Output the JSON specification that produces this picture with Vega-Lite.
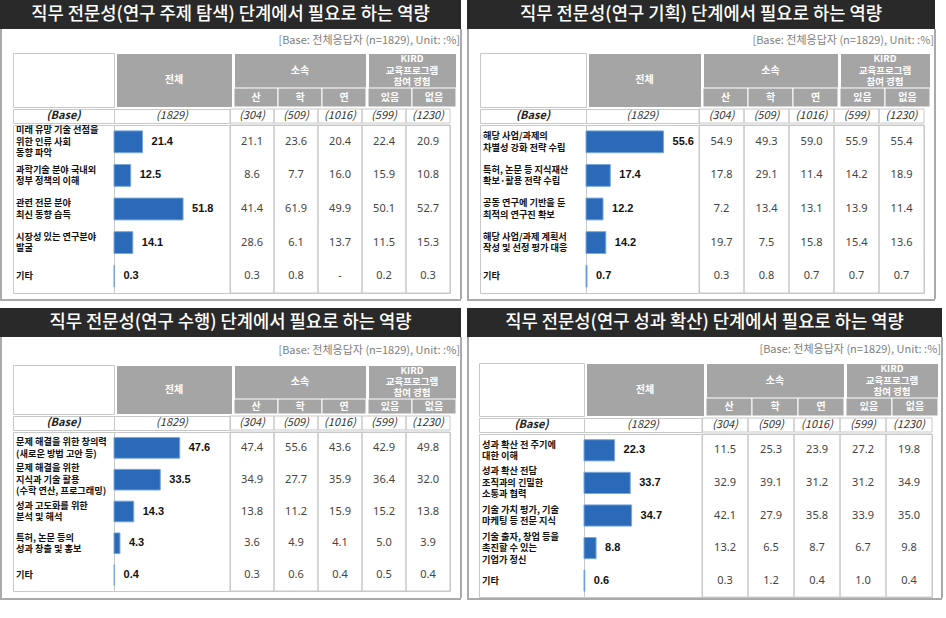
{
"$schema": "https://vega.github.io/schema/vega-lite/v6.json",
"padding": 0,
"background": "white",
"config": {"view": {"stroke": null}, "axis": {"disable": true}, "font": "Noto Sans CJK KR", "concat": {"spacing": 0}},
"datasets": {
"base": [{"c":"산","v":"(304)"},{"c":"학","v":"(509)"},{"c":"연","v":"(1016)"},{"c":"있음","v":"(599)"},{"c":"없음","v":"(1230)"}],
"items": [
{"p":1,"i":1,"label":"미래 유망 기술 선점을\n위한 인류 사회\n동향 파악","total":21.4,"산":"21.1","학":"23.6","연":"20.4","있음":"22.4","없음":"20.9"},
{"p":1,"i":2,"label":"과학기술 분야 국내외\n정부 정책의 이해","total":12.5,"산":"8.6","학":"7.7","연":"16.0","있음":"15.9","없음":"10.8"},
{"p":1,"i":3,"label":"관련 전문 분야\n최신 동향 습득","total":51.8,"산":"41.4","학":"61.9","연":"49.9","있음":"50.1","없음":"52.7"},
{"p":1,"i":4,"label":"시장성 있는 연구분야\n발굴","total":14.1,"산":"28.6","학":"6.1","연":"13.7","있음":"11.5","없음":"15.3"},
{"p":1,"i":5,"label":"기타","total":0.3,"산":"0.3","학":"0.8","연":"-","있음":"0.2","없음":"0.3"},
{"p":2,"i":1,"label":"해당 사업/과제의\n차별성 강화 전략 수립","total":55.6,"산":"54.9","학":"49.3","연":"59.0","있음":"55.9","없음":"55.4"},
{"p":2,"i":2,"label":"특허, 논문 등 지식재산\n확보·활용 전략 수립","total":17.4,"산":"17.8","학":"29.1","연":"11.4","있음":"14.2","없음":"18.9"},
{"p":2,"i":3,"label":"공동 연구에 기반을 둔\n최적의 연구진 확보","total":12.2,"산":"7.2","학":"13.4","연":"13.1","있음":"13.9","없음":"11.4"},
{"p":2,"i":4,"label":"해당 사업/과제 계획서\n작성 및 선정 평가 대응","total":14.2,"산":"19.7","학":"7.5","연":"15.8","있음":"15.4","없음":"13.6"},
{"p":2,"i":5,"label":"기타","total":0.7,"산":"0.3","학":"0.8","연":"0.7","있음":"0.7","없음":"0.7"},
{"p":3,"i":1,"label":"문제 해결을 위한 창의력\n(새로운 방법 고안 등)","total":47.6,"산":"47.4","학":"55.6","연":"43.6","있음":"42.9","없음":"49.8"},
{"p":3,"i":2,"label":"문제 해결을 위한\n지식과 기술 활용\n(수학 연산, 프로그래밍)","total":33.5,"산":"34.9","학":"27.7","연":"35.9","있음":"36.4","없음":"32.0"},
{"p":3,"i":3,"label":"성과 고도화를 위한\n분석 및 해석","total":14.3,"산":"13.8","학":"11.2","연":"15.9","있음":"15.2","없음":"13.8"},
{"p":3,"i":4,"label":"특허, 논문 등의\n성과 창출 및 홍보","total":4.3,"산":"3.6","학":"4.9","연":"4.1","있음":"5.0","없음":"3.9"},
{"p":3,"i":5,"label":"기타","total":0.4,"산":"0.3","학":"0.6","연":"0.4","있음":"0.5","없음":"0.4"},
{"p":4,"i":1,"label":"성과 확산 전 주기에\n대한 이해","total":22.3,"산":"11.5","학":"25.3","연":"23.9","있음":"27.2","없음":"19.8"},
{"p":4,"i":2,"label":"성과 확산 전담\n조직과의 긴밀한\n소통과 협력","total":33.7,"산":"32.9","학":"39.1","연":"31.2","있음":"31.2","없음":"34.9"},
{"p":4,"i":3,"label":"기술 가치 평가, 기술\n마케팅 등 전문 지식","total":34.7,"산":"42.1","학":"27.9","연":"35.8","있음":"33.9","없음":"35.0"},
{"p":4,"i":4,"label":"기술 출자, 창업 등을\n촉진할 수 있는\n기업가 정신","total":8.8,"산":"13.2","학":"6.5","연":"8.7","있음":"6.7","없음":"9.8"},
{"p":4,"i":5,"label":"기타","total":0.6,"산":"0.3","학":"1.2","연":"0.4","있음":"1.0","없음":"0.4"}
]
},
"vconcat": [
{"hconcat": [
{"vconcat": [
 {"width":461,"height":29,"view":{"fill":"#292929","stroke":null},"data":{"values":[{}]},"mark":{"type":"text","text":"직무 전문성(연구 주제 탐색) 단계에서 필요로 하는 역량","color":"white","fontSize":17.7,"fontWeight":500}},
 {"hconcat": [
  {"width":2,"height":270,"view":{"fill":"#aaaaaa","stroke":null},"data":{"values":[]},"mark":"rect"},
  {"width":10,"height":1,"data":{"values":[]},"mark":"rect"},
  {"vconcat": [
   {"width":447,"height":23,"data":{"values":[{}]},"mark":{"type":"text","text":"[Base: 전체응답자 (n=1829), Unit: :%]","color":"#808080","fontSize":11,"align":"right"},"encoding":{"x":{"value":"width"}}},
   {"hconcat": [
    {"width":101,"height":54,"view":{"fill":"white","stroke":"#c8c8c8"},"data":{"values":[]},"mark":"rect"},
    {"width":116,"height":54,"view":{"fill":"#a5a5a5","stroke":"white"},"data":{"values":[{}]},"mark":{"type":"text","text":"전체","color":"white","fontSize":10,"fontWeight":"bold"}},
    {"vconcat": [
     {"width":132,"height":35,"view":{"fill":"#a5a5a5","stroke":"white"},"data":{"values":[{}]},"mark":{"type":"text","text":"소속","color":"white","fontSize":10,"fontWeight":"bold"}},
     {"width":132,"height":19,"data":{"name":"base"},"transform":[{"filter":{"field":"c","oneOf":["산","학","연"]}}],"encoding":{"x":{"field":"c","type":"nominal","scale":{"type":"band","domain":["산","학","연"],"paddingInner":0,"paddingOuter":0}}},
      "layer":[{"mark":{"type":"rect","color":"#a5a5a5","stroke":"white","strokeWidth":1}},{"mark":{"type":"text","color":"white","fontSize":10,"fontWeight":"bold"},"encoding":{"text":{"field":"c"}}}]}
    ],"spacing":0,"bounds":"flush"},
    {"vconcat": [
     {"width":88,"height":35,"view":{"fill":"#a5a5a5","stroke":"white"},"data":{"values":[{}]},"mark":{"type":"text","text":"KIRD\n교육프로그램\n참여 경험","lineBreak":"\n","lineHeight":11.5,"dy":-11.5,"color":"white","fontSize":9.5,"fontWeight":"bold"}},
     {"width":88,"height":19,"data":{"name":"base"},"transform":[{"filter":{"field":"c","oneOf":["있음","없음"]}}],"encoding":{"x":{"field":"c","type":"nominal","scale":{"type":"band","domain":["있음","없음"],"paddingInner":0,"paddingOuter":0}}},
      "layer":[{"mark":{"type":"rect","color":"#a5a5a5","stroke":"white","strokeWidth":1}},{"mark":{"type":"text","color":"white","fontSize":10,"fontWeight":"bold"},"encoding":{"text":{"field":"c"}}}]}
    ],"spacing":0,"bounds":"flush"}
   ],"spacing":0},
   {"hconcat": [
    {"width":101,"height":14,"view":{"stroke":"#c8c8c8"},"data":{"values":[{}]},"mark":{"type":"text","text":"(Base)","fontStyle":"italic","fontWeight":"bold","fontSize":11,"color":"#222"}},
    {"width":116,"height":14,"view":{"stroke":"#c8c8c8"},"data":{"values":[{}]},"mark":{"type":"text","text":"(1829)","fontStyle":"italic","fontSize":11,"color":"#333"}},
    {"width":220,"height":14,"data":{"name":"base"},"encoding":{"x":{"field":"c","type":"nominal","scale":{"type":"band","domain":["산","학","연","있음","없음"],"paddingInner":0,"paddingOuter":0}}},
     "layer":[{"mark":{"type":"rect","fill":"transparent","stroke":"#c8c8c8"}},{"mark":{"type":"text","fontStyle":"italic","fontSize":11,"color":"#333"},"encoding":{"text":{"field":"v"}}}]}
   ],"spacing":0,"bounds":"flush"},
   {"hconcat": [
    {"width":101,"height":168,"view":{"stroke":"#c8c8c8"},"data":{"name":"items"},
     "encoding":{"x":{"value":0},"y":{"field":"i","type":"ordinal","scale":{"type":"band","paddingInner":0,"paddingOuter":0}},"text":{"field":"label"}},
     "layer":[
      {"transform":[{"filter":"datum.p==1 && length(split(datum.label,'\\n'))==1"}],"mark":{"type":"text","align":"left","dx":3,"dy":0,"fontSize":9.2,"fontWeight":"bold","lineBreak":"\n","lineHeight":11.5,"color":"#111"}},
      {"transform":[{"filter":"datum.p==1 && length(split(datum.label,'\\n'))==2"}],"mark":{"type":"text","align":"left","dx":3,"dy":-5.75,"fontSize":9.2,"fontWeight":"bold","lineBreak":"\n","lineHeight":11.5,"color":"#111"}},
      {"transform":[{"filter":"datum.p==1 && length(split(datum.label,'\\n'))==3"}],"mark":{"type":"text","align":"left","dx":3,"dy":-11.5,"fontSize":9.2,"fontWeight":"bold","lineBreak":"\n","lineHeight":11.5,"color":"#111"}}
     ]},
    {"width":116,"height":168,"view":{"stroke":"#c8c8c8"},"data":{"name":"items"},"transform":[{"filter":"datum.p==1"}],
     "encoding":{"y":{"field":"i","type":"ordinal","scale":{"type":"band","paddingInner":0.35,"paddingOuter":0.175}},"x":{"field":"total","type":"quantitative","scale":{"domain":[0,87],"nice":false}}},
     "layer":[{"mark":{"type":"bar","color":"#2a6ab8","stroke":"#7aa7dc","strokeWidth":1}},{"mark":{"type":"text","align":"left","dx":9,"fontSize":11,"fontWeight":"bold","font":"Liberation Sans","color":"#111"},"encoding":{"text":{"field":"total","format":".1f"}}}]},
    {"width":220,"height":168,"view":{"stroke":"#c8c8c8"},
     "layer":[
      {"data":{"name":"base"},"mark":{"type":"rect","fill":"transparent","stroke":"#c8c8c8"},"encoding":{"x":{"field":"c","type":"nominal","scale":{"type":"band","domain":["산","학","연","있음","없음"],"paddingInner":0,"paddingOuter":0}}}},
      {"data":{"name":"items"},"transform":[{"filter":"datum.p==1"},{"fold":["산","학","연","있음","없음"],"as":["c","v"]}],"mark":{"type":"text","fontSize":11,"color":"#444","font":"Noto Sans"},
       "encoding":{"x":{"field":"c","type":"nominal","scale":{"type":"band","domain":["산","학","연","있음","없음"],"paddingInner":0,"paddingOuter":0}},"y":{"field":"i","type":"ordinal","scale":{"type":"band","paddingInner":0,"paddingOuter":0}},"text":{"field":"v"}}}
     ]}
   ],"spacing":0,"bounds":"flush"}
  ],"spacing":0},
  {"width":2,"height":270,"view":{"fill":"#aaaaaa","stroke":null},"data":{"values":[]},"mark":"rect"}
 ],"spacing":0},
 {"width":461,"height":2,"view":{"fill":"#aaaaaa","stroke":null},"data":{"values":[]},"mark":"rect"}
],"spacing":0},

{"vconcat": [
 {"width":468,"height":29,"view":{"fill":"#292929","stroke":null},"data":{"values":[{}]},"mark":{"type":"text","text":"직무 전문성(연구 기획) 단계에서 필요로 하는 역량","color":"white","fontSize":17.7,"fontWeight":500}},
 {"hconcat": [
  {"width":2,"height":270,"view":{"fill":"#aaaaaa","stroke":null},"data":{"values":[]},"mark":"rect"},
  {"width":10,"height":1,"data":{"values":[]},"mark":"rect"},
  {"vconcat": [
   {"width":454,"height":23,"data":{"values":[{}]},"mark":{"type":"text","text":"[Base: 전체응답자 (n=1829), Unit: :%]","color":"#808080","fontSize":11,"align":"right"},"encoding":{"x":{"value":"width"}}},
   {"hconcat": [
    {"width":106,"height":54,"view":{"fill":"white","stroke":"#c8c8c8"},"data":{"values":[]},"mark":"rect"},
    {"width":113,"height":54,"view":{"fill":"#a5a5a5","stroke":"white"},"data":{"values":[{}]},"mark":{"type":"text","text":"전체","color":"white","fontSize":10,"fontWeight":"bold"}},
    {"vconcat": [
     {"width":135,"height":35,"view":{"fill":"#a5a5a5","stroke":"white"},"data":{"values":[{}]},"mark":{"type":"text","text":"소속","color":"white","fontSize":10,"fontWeight":"bold"}},
     {"width":135,"height":19,"data":{"name":"base"},"transform":[{"filter":{"field":"c","oneOf":["산","학","연"]}}],"encoding":{"x":{"field":"c","type":"nominal","scale":{"type":"band","domain":["산","학","연"],"paddingInner":0,"paddingOuter":0}}},
      "layer":[{"mark":{"type":"rect","color":"#a5a5a5","stroke":"white","strokeWidth":1}},{"mark":{"type":"text","color":"white","fontSize":10,"fontWeight":"bold"},"encoding":{"text":{"field":"c"}}}]}
    ],"spacing":0,"bounds":"flush"},
    {"vconcat": [
     {"width":90,"height":35,"view":{"fill":"#a5a5a5","stroke":"white"},"data":{"values":[{}]},"mark":{"type":"text","text":"KIRD\n교육프로그램\n참여 경험","lineBreak":"\n","lineHeight":11.5,"dy":-11.5,"color":"white","fontSize":9.5,"fontWeight":"bold"}},
     {"width":90,"height":19,"data":{"name":"base"},"transform":[{"filter":{"field":"c","oneOf":["있음","없음"]}}],"encoding":{"x":{"field":"c","type":"nominal","scale":{"type":"band","domain":["있음","없음"],"paddingInner":0,"paddingOuter":0}}},
      "layer":[{"mark":{"type":"rect","color":"#a5a5a5","stroke":"white","strokeWidth":1}},{"mark":{"type":"text","color":"white","fontSize":10,"fontWeight":"bold"},"encoding":{"text":{"field":"c"}}}]}
    ],"spacing":0,"bounds":"flush"}
   ],"spacing":0},
   {"hconcat": [
    {"width":106,"height":14,"view":{"stroke":"#c8c8c8"},"data":{"values":[{}]},"mark":{"type":"text","text":"(Base)","fontStyle":"italic","fontWeight":"bold","fontSize":11,"color":"#222"}},
    {"width":113,"height":14,"view":{"stroke":"#c8c8c8"},"data":{"values":[{}]},"mark":{"type":"text","text":"(1829)","fontStyle":"italic","fontSize":11,"color":"#333"}},
    {"width":225,"height":14,"data":{"name":"base"},"encoding":{"x":{"field":"c","type":"nominal","scale":{"type":"band","domain":["산","학","연","있음","없음"],"paddingInner":0,"paddingOuter":0}}},
     "layer":[{"mark":{"type":"rect","fill":"transparent","stroke":"#c8c8c8"}},{"mark":{"type":"text","fontStyle":"italic","fontSize":11,"color":"#333"},"encoding":{"text":{"field":"v"}}}]}
   ],"spacing":0,"bounds":"flush"},
   {"hconcat": [
    {"width":106,"height":168,"view":{"stroke":"#c8c8c8"},"data":{"name":"items"},
     "encoding":{"x":{"value":0},"y":{"field":"i","type":"ordinal","scale":{"type":"band","paddingInner":0,"paddingOuter":0}},"text":{"field":"label"}},
     "layer":[
      {"transform":[{"filter":"datum.p==2 && length(split(datum.label,'\\n'))==1"}],"mark":{"type":"text","align":"left","dx":3,"dy":0,"fontSize":9.2,"fontWeight":"bold","lineBreak":"\n","lineHeight":11.5,"color":"#111"}},
      {"transform":[{"filter":"datum.p==2 && length(split(datum.label,'\\n'))==2"}],"mark":{"type":"text","align":"left","dx":3,"dy":-5.75,"fontSize":9.2,"fontWeight":"bold","lineBreak":"\n","lineHeight":11.5,"color":"#111"}},
      {"transform":[{"filter":"datum.p==2 && length(split(datum.label,'\\n'))==3"}],"mark":{"type":"text","align":"left","dx":3,"dy":-11.5,"fontSize":9.2,"fontWeight":"bold","lineBreak":"\n","lineHeight":11.5,"color":"#111"}}
     ]},
    {"width":113,"height":168,"view":{"stroke":"#c8c8c8"},"data":{"name":"items"},"transform":[{"filter":"datum.p==2"}],
     "encoding":{"y":{"field":"i","type":"ordinal","scale":{"type":"band","paddingInner":0.35,"paddingOuter":0.175}},"x":{"field":"total","type":"quantitative","scale":{"domain":[0,81],"nice":false}}},
     "layer":[{"mark":{"type":"bar","color":"#2a6ab8","stroke":"#7aa7dc","strokeWidth":1}},{"mark":{"type":"text","align":"left","dx":9,"fontSize":11,"fontWeight":"bold","font":"Liberation Sans","color":"#111"},"encoding":{"text":{"field":"total","format":".1f"}}}]},
    {"width":225,"height":168,"view":{"stroke":"#c8c8c8"},
     "layer":[
      {"data":{"name":"base"},"mark":{"type":"rect","fill":"transparent","stroke":"#c8c8c8"},"encoding":{"x":{"field":"c","type":"nominal","scale":{"type":"band","domain":["산","학","연","있음","없음"],"paddingInner":0,"paddingOuter":0}}}},
      {"data":{"name":"items"},"transform":[{"filter":"datum.p==2"},{"fold":["산","학","연","있음","없음"],"as":["c","v"]}],"mark":{"type":"text","fontSize":11,"color":"#444","font":"Noto Sans"},
       "encoding":{"x":{"field":"c","type":"nominal","scale":{"type":"band","domain":["산","학","연","있음","없음"],"paddingInner":0,"paddingOuter":0}},"y":{"field":"i","type":"ordinal","scale":{"type":"band","paddingInner":0,"paddingOuter":0}},"text":{"field":"v"}}}
     ]}
   ],"spacing":0,"bounds":"flush"}
  ],"spacing":0},
  {"width":2,"height":270,"view":{"fill":"#aaaaaa","stroke":null},"data":{"values":[]},"mark":"rect"}
 ],"spacing":0},
 {"width":468,"height":2,"view":{"fill":"#aaaaaa","stroke":null},"data":{"values":[]},"mark":"rect"}
],"spacing":0}
],"spacing":5},

{"hconcat": [
{"vconcat": [
 {"width":461,"height":29,"view":{"fill":"#292929","stroke":null},"data":{"values":[{}]},"mark":{"type":"text","text":"직무 전문성(연구 수행) 단계에서 필요로 하는 역량","color":"white","fontSize":17.7,"fontWeight":500}},
 {"hconcat": [
  {"width":2,"height":261,"view":{"fill":"#aaaaaa","stroke":null},"data":{"values":[]},"mark":"rect"},
  {"width":10,"height":1,"data":{"values":[]},"mark":"rect"},
  {"vconcat": [
   {"width":447,"height":27,"data":{"values":[{}]},"mark":{"type":"text","text":"[Base: 전체응답자 (n=1829), Unit: :%]","color":"#808080","fontSize":11,"align":"right"},"encoding":{"x":{"value":"width"}}},
   {"hconcat": [
    {"width":101,"height":49,"view":{"fill":"white","stroke":"#c8c8c8"},"data":{"values":[]},"mark":"rect"},
    {"width":116,"height":49,"view":{"fill":"#a5a5a5","stroke":"white"},"data":{"values":[{}]},"mark":{"type":"text","text":"전체","color":"white","fontSize":10,"fontWeight":"bold"}},
    {"vconcat": [
     {"width":132,"height":34,"view":{"fill":"#a5a5a5","stroke":"white"},"data":{"values":[{}]},"mark":{"type":"text","text":"소속","color":"white","fontSize":10,"fontWeight":"bold"}},
     {"width":132,"height":15,"data":{"name":"base"},"transform":[{"filter":{"field":"c","oneOf":["산","학","연"]}}],"encoding":{"x":{"field":"c","type":"nominal","scale":{"type":"band","domain":["산","학","연"],"paddingInner":0,"paddingOuter":0}}},
      "layer":[{"mark":{"type":"rect","color":"#a5a5a5","stroke":"white","strokeWidth":1}},{"mark":{"type":"text","color":"white","fontSize":10,"fontWeight":"bold"},"encoding":{"text":{"field":"c"}}}]}
    ],"spacing":0,"bounds":"flush"},
    {"vconcat": [
     {"width":88,"height":34,"view":{"fill":"#a5a5a5","stroke":"white"},"data":{"values":[{}]},"mark":{"type":"text","text":"KIRD\n교육프로그램\n참여 경험","lineBreak":"\n","lineHeight":11,"dy":-11,"color":"white","fontSize":9.5,"fontWeight":"bold"}},
     {"width":88,"height":15,"data":{"name":"base"},"transform":[{"filter":{"field":"c","oneOf":["있음","없음"]}}],"encoding":{"x":{"field":"c","type":"nominal","scale":{"type":"band","domain":["있음","없음"],"paddingInner":0,"paddingOuter":0}}},
      "layer":[{"mark":{"type":"rect","color":"#a5a5a5","stroke":"white","strokeWidth":1}},{"mark":{"type":"text","color":"white","fontSize":10,"fontWeight":"bold"},"encoding":{"text":{"field":"c"}}}]}
    ],"spacing":0,"bounds":"flush"}
   ],"spacing":0},
   {"hconcat": [
    {"width":101,"height":14,"view":{"stroke":"#c8c8c8"},"data":{"values":[{}]},"mark":{"type":"text","text":"(Base)","fontStyle":"italic","fontWeight":"bold","fontSize":11,"color":"#222"}},
    {"width":116,"height":14,"view":{"stroke":"#c8c8c8"},"data":{"values":[{}]},"mark":{"type":"text","text":"(1829)","fontStyle":"italic","fontSize":11,"color":"#333"}},
    {"width":220,"height":14,"data":{"name":"base"},"encoding":{"x":{"field":"c","type":"nominal","scale":{"type":"band","domain":["산","학","연","있음","없음"],"paddingInner":0,"paddingOuter":0}}},
     "layer":[{"mark":{"type":"rect","fill":"transparent","stroke":"#c8c8c8"}},{"mark":{"type":"text","fontStyle":"italic","fontSize":11,"color":"#333"},"encoding":{"text":{"field":"v"}}}]}
   ],"spacing":0,"bounds":"flush"},
   {"hconcat": [
    {"width":101,"height":159,"view":{"stroke":"#c8c8c8"},"data":{"name":"items"},
     "encoding":{"x":{"value":0},"y":{"field":"i","type":"ordinal","scale":{"type":"band","paddingInner":0,"paddingOuter":0}},"text":{"field":"label"}},
     "layer":[
      {"transform":[{"filter":"datum.p==3 && length(split(datum.label,'\\n'))==1"}],"mark":{"type":"text","align":"left","dx":3,"dy":0,"fontSize":9.2,"fontWeight":"bold","lineBreak":"\n","lineHeight":11.5,"color":"#111"}},
      {"transform":[{"filter":"datum.p==3 && length(split(datum.label,'\\n'))==2"}],"mark":{"type":"text","align":"left","dx":3,"dy":-5.75,"fontSize":9.2,"fontWeight":"bold","lineBreak":"\n","lineHeight":11.5,"color":"#111"}},
      {"transform":[{"filter":"datum.p==3 && length(split(datum.label,'\\n'))==3"}],"mark":{"type":"text","align":"left","dx":3,"dy":-11.5,"fontSize":9.2,"fontWeight":"bold","lineBreak":"\n","lineHeight":11.5,"color":"#111"}}
     ]},
    {"width":116,"height":159,"view":{"stroke":"#c8c8c8"},"data":{"name":"items"},"transform":[{"filter":"datum.p==3"}],
     "encoding":{"y":{"field":"i","type":"ordinal","scale":{"type":"band","paddingInner":0.35,"paddingOuter":0.175}},"x":{"field":"total","type":"quantitative","scale":{"domain":[0,84],"nice":false}}},
     "layer":[{"mark":{"type":"bar","color":"#2a6ab8","stroke":"#7aa7dc","strokeWidth":1}},{"mark":{"type":"text","align":"left","dx":9,"fontSize":11,"fontWeight":"bold","font":"Liberation Sans","color":"#111"},"encoding":{"text":{"field":"total","format":".1f"}}}]},
    {"width":220,"height":159,"view":{"stroke":"#c8c8c8"},
     "layer":[
      {"data":{"name":"base"},"mark":{"type":"rect","fill":"transparent","stroke":"#c8c8c8"},"encoding":{"x":{"field":"c","type":"nominal","scale":{"type":"band","domain":["산","학","연","있음","없음"],"paddingInner":0,"paddingOuter":0}}}},
      {"data":{"name":"items"},"transform":[{"filter":"datum.p==3"},{"fold":["산","학","연","있음","없음"],"as":["c","v"]}],"mark":{"type":"text","fontSize":11,"color":"#444","font":"Noto Sans"},
       "encoding":{"x":{"field":"c","type":"nominal","scale":{"type":"band","domain":["산","학","연","있음","없음"],"paddingInner":0,"paddingOuter":0}},"y":{"field":"i","type":"ordinal","scale":{"type":"band","paddingInner":0,"paddingOuter":0}},"text":{"field":"v"}}}
     ]}
   ],"spacing":0,"bounds":"flush"}
  ],"spacing":0},
  {"width":2,"height":261,"view":{"fill":"#aaaaaa","stroke":null},"data":{"values":[]},"mark":"rect"}
 ],"spacing":0},
 {"width":461,"height":2,"view":{"fill":"#aaaaaa","stroke":null},"data":{"values":[]},"mark":"rect"}
],"spacing":0},

{"vconcat": [
 {"width":475,"height":29,"view":{"fill":"#292929","stroke":null},"data":{"values":[{}]},"mark":{"type":"text","text":"직무 전문성(연구 성과 확산) 단계에서 필요로 하는 역량","color":"white","fontSize":17.7,"fontWeight":500}},
 {"hconcat": [
  {"width":2,"height":261,"view":{"fill":"#aaaaaa","stroke":null},"data":{"values":[]},"mark":"rect"},
  {"width":9,"height":1,"data":{"values":[]},"mark":"rect"},
  {"vconcat": [
   {"width":462,"height":25,"data":{"values":[{}]},"mark":{"type":"text","text":"[Base: 전체응답자 (n=1829), Unit: :%]","color":"#808080","fontSize":11,"align":"right"},"encoding":{"x":{"value":"width"}}},
   {"hconcat": [
    {"width":105,"height":53,"view":{"fill":"white","stroke":"#c8c8c8"},"data":{"values":[]},"mark":"rect"},
    {"width":118,"height":53,"view":{"fill":"#a5a5a5","stroke":"white"},"data":{"values":[{}]},"mark":{"type":"text","text":"전체","color":"white","fontSize":10,"fontWeight":"bold"}},
    {"vconcat": [
     {"width":138,"height":35,"view":{"fill":"#a5a5a5","stroke":"white"},"data":{"values":[{}]},"mark":{"type":"text","text":"소속","color":"white","fontSize":10,"fontWeight":"bold"}},
     {"width":138,"height":18,"data":{"name":"base"},"transform":[{"filter":{"field":"c","oneOf":["산","학","연"]}}],"encoding":{"x":{"field":"c","type":"nominal","scale":{"type":"band","domain":["산","학","연"],"paddingInner":0,"paddingOuter":0}}},
      "layer":[{"mark":{"type":"rect","color":"#a5a5a5","stroke":"white","strokeWidth":1}},{"mark":{"type":"text","color":"white","fontSize":10,"fontWeight":"bold"},"encoding":{"text":{"field":"c"}}}]}
    ],"spacing":0,"bounds":"flush"},
    {"vconcat": [
     {"width":92,"height":35,"view":{"fill":"#a5a5a5","stroke":"white"},"data":{"values":[{}]},"mark":{"type":"text","text":"KIRD\n교육프로그램\n참여 경험","lineBreak":"\n","lineHeight":11.5,"dy":-11.5,"color":"white","fontSize":9.5,"fontWeight":"bold"}},
     {"width":92,"height":18,"data":{"name":"base"},"transform":[{"filter":{"field":"c","oneOf":["있음","없음"]}}],"encoding":{"x":{"field":"c","type":"nominal","scale":{"type":"band","domain":["있음","없음"],"paddingInner":0,"paddingOuter":0}}},
      "layer":[{"mark":{"type":"rect","color":"#a5a5a5","stroke":"white","strokeWidth":1}},{"mark":{"type":"text","color":"white","fontSize":10,"fontWeight":"bold"},"encoding":{"text":{"field":"c"}}}]}
    ],"spacing":0,"bounds":"flush"}
   ],"spacing":0},
   {"hconcat": [
    {"width":105,"height":14,"view":{"stroke":"#c8c8c8"},"data":{"values":[{}]},"mark":{"type":"text","text":"(Base)","fontStyle":"italic","fontWeight":"bold","fontSize":11,"color":"#222"}},
    {"width":118,"height":14,"view":{"stroke":"#c8c8c8"},"data":{"values":[{}]},"mark":{"type":"text","text":"(1829)","fontStyle":"italic","fontSize":11,"color":"#333"}},
    {"width":230,"height":14,"data":{"name":"base"},"encoding":{"x":{"field":"c","type":"nominal","scale":{"type":"band","domain":["산","학","연","있음","없음"],"paddingInner":0,"paddingOuter":0}}},
     "layer":[{"mark":{"type":"rect","fill":"transparent","stroke":"#c8c8c8"}},{"mark":{"type":"text","fontStyle":"italic","fontSize":11,"color":"#333"},"encoding":{"text":{"field":"v"}}}]}
   ],"spacing":0,"bounds":"flush"},
   {"hconcat": [
    {"width":105,"height":163,"view":{"stroke":"#c8c8c8"},"data":{"name":"items"},
     "encoding":{"x":{"value":0},"y":{"field":"i","type":"ordinal","scale":{"type":"band","paddingInner":0,"paddingOuter":0}},"text":{"field":"label"}},
     "layer":[
      {"transform":[{"filter":"datum.p==4 && length(split(datum.label,'\\n'))==1"}],"mark":{"type":"text","align":"left","dx":3,"dy":0,"fontSize":9.2,"fontWeight":"bold","lineBreak":"\n","lineHeight":11.5,"color":"#111"}},
      {"transform":[{"filter":"datum.p==4 && length(split(datum.label,'\\n'))==2"}],"mark":{"type":"text","align":"left","dx":3,"dy":-5.75,"fontSize":9.2,"fontWeight":"bold","lineBreak":"\n","lineHeight":11.5,"color":"#111"}},
      {"transform":[{"filter":"datum.p==4 && length(split(datum.label,'\\n'))==3"}],"mark":{"type":"text","align":"left","dx":3,"dy":-11.5,"fontSize":9.2,"fontWeight":"bold","lineBreak":"\n","lineHeight":11.5,"color":"#111"}}
     ]},
    {"width":118,"height":163,"view":{"stroke":"#c8c8c8"},"data":{"name":"items"},"transform":[{"filter":"datum.p==4"}],
     "encoding":{"y":{"field":"i","type":"ordinal","scale":{"type":"band","paddingInner":0.35,"paddingOuter":0.175}},"x":{"field":"total","type":"quantitative","scale":{"domain":[0,86],"nice":false}}},
     "layer":[{"mark":{"type":"bar","color":"#2a6ab8","stroke":"#7aa7dc","strokeWidth":1}},{"mark":{"type":"text","align":"left","dx":9,"fontSize":11,"fontWeight":"bold","font":"Liberation Sans","color":"#111"},"encoding":{"text":{"field":"total","format":".1f"}}}]},
    {"width":230,"height":163,"view":{"stroke":"#c8c8c8"},
     "layer":[
      {"data":{"name":"base"},"mark":{"type":"rect","fill":"transparent","stroke":"#c8c8c8"},"encoding":{"x":{"field":"c","type":"nominal","scale":{"type":"band","domain":["산","학","연","있음","없음"],"paddingInner":0,"paddingOuter":0}}}},
      {"data":{"name":"items"},"transform":[{"filter":"datum.p==4"},{"fold":["산","학","연","있음","없음"],"as":["c","v"]}],"mark":{"type":"text","fontSize":11,"color":"#444","font":"Noto Sans"},
       "encoding":{"x":{"field":"c","type":"nominal","scale":{"type":"band","domain":["산","학","연","있음","없음"],"paddingInner":0,"paddingOuter":0}},"y":{"field":"i","type":"ordinal","scale":{"type":"band","paddingInner":0,"paddingOuter":0}},"text":{"field":"v"}}}
     ]}
   ],"spacing":0,"bounds":"flush"}
  ],"spacing":0},
  {"width":2,"height":261,"view":{"fill":"#aaaaaa","stroke":null},"data":{"values":[]},"mark":"rect"}
 ],"spacing":0},
 {"width":475,"height":2,"view":{"fill":"#aaaaaa","stroke":null},"data":{"values":[]},"mark":"rect"}
],"spacing":0}
],"spacing":5}
],
"spacing": 7
}
